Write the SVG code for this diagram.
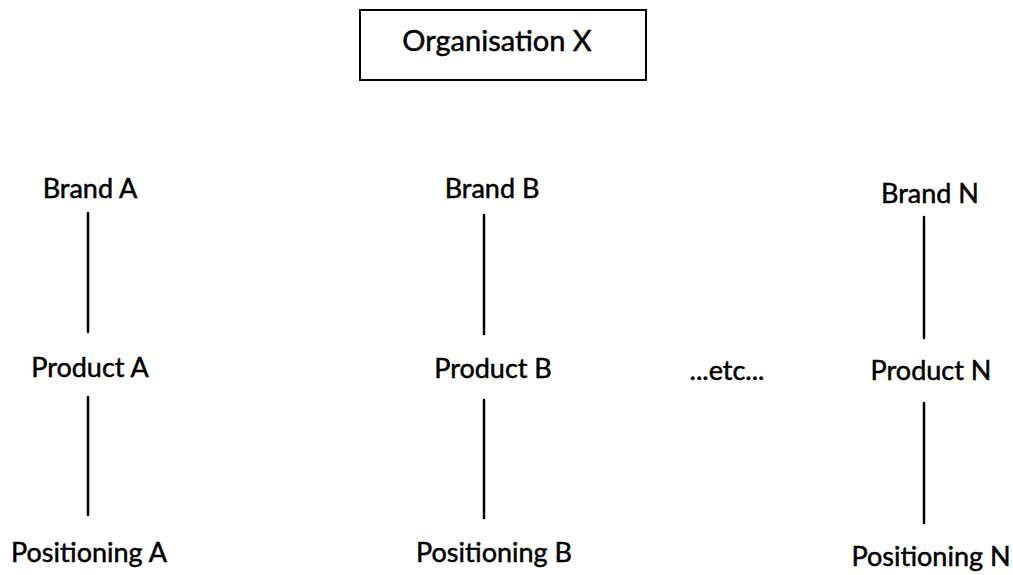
<svg xmlns="http://www.w3.org/2000/svg" width="1013" height="575" viewBox="0 0 1013 575">
  <style>
    .lbl { font-family: Lato, "Open Sans", "Liberation Sans", sans-serif; font-size: 27px; fill: #000; stroke: #000; stroke-width: 0.5; text-anchor: middle; }
    .title { font-size: 29px; }
    .box { fill: #fff; stroke: #000; stroke-width: 2; }
    .conn { stroke: #000; stroke-width: 2.5; stroke-linecap: round; fill: none; }
  </style>
  <rect width="1013" height="575" fill="#fff"/>

  <g id="organisation">
    <rect class="box" x="360" y="10" width="286" height="70"/>
    <text class="lbl title" x="497" y="51">Organisation X</text>
  </g>

  <g id="brand-a"><text class="lbl" x="90" y="198">Brand A</text></g>
  <g id="product-a"><text class="lbl" x="90" y="377">Product A</text></g>
  <g id="positioning-a"><text class="lbl" x="89" y="562">Positioning A</text></g>

  <g id="brand-b"><text class="lbl" x="492" y="198">Brand B</text></g>
  <g id="product-b"><text class="lbl" x="493" y="378">Product B</text></g>
  <g id="positioning-b"><text class="lbl" x="494" y="562">Positioning B</text></g>

  <g id="etc"><text class="lbl" x="727" y="380">...etc...</text></g>

  <g id="brand-n"><text class="lbl" x="930" y="203">Brand N</text></g>
  <g id="product-n"><text class="lbl" x="931" y="380">Product N</text></g>
  <g id="positioning-n"><text class="lbl" x="931" y="566">Positioning N</text></g>

  <g id="connectors">
    <line class="conn" x1="88" y1="213" x2="88" y2="332"/>
    <line class="conn" x1="88" y1="397" x2="88" y2="515"/>
    <line class="conn" x1="484" y1="215" x2="484" y2="334"/>
    <line class="conn" x1="484" y1="400" x2="484" y2="518"/>
    <line class="conn" x1="924" y1="217" x2="924" y2="338"/>
    <line class="conn" x1="924" y1="403" x2="924" y2="523"/>
  </g>
</svg>
